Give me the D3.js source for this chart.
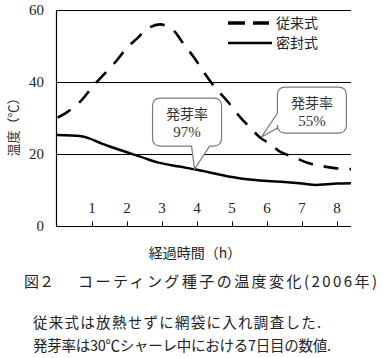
<!DOCTYPE html>
<html><head><meta charset="utf-8">
<script src="https://cdn.jsdelivr.net/npm/d3@7"></script>
<style>
html,body{margin:0;padding:0;background:#fff;}
svg{display:block;}
</style></head>
<body>
<svg id="chart" width="383" height="358"></svg>
<script>
// ---- data ----
const conventionalTime = [0,0.3,0.65,1.0,1.3,1.7,2.0,2.3,2.6,2.95,3.3,3.6,3.9,4.2,4.5,4.9,5.2,5.5,5.8,6.1,6.4,6.8,7.2,7.6,8.0,8.4];
const conventionalTemp = [30.0,31.7,34.4,38.5,41.7,45.9,49.5,52.2,54.9,56.0,54.6,50.8,47.0,42.7,38.7,34.3,30.6,27.5,24.6,22.7,20.5,19.0,17.4,16.6,16.0,15.8];
const sealedTime = [0,0.65,0.9,1.3,1.8,2.4,2.9,3.5,4.0,4.5,5.0,5.5,6.0,6.5,7.0,7.4,7.7,8.0,8.4];
const sealedTemp = [25.3,25.0,24.4,22.8,21.1,19.2,17.6,16.5,15.6,14.6,13.6,12.9,12.5,12.2,11.8,11.4,11.6,11.8,11.9];
const seriesNames = ["従来式","密封式"];
const xTicks = [1,2,3,4,5,6,7,8];
const yTicks = [0,20,40,60];
const calloutLabels = ["発芽率","発芽率"];
const calloutValues = ["97%","55%"];
const calloutTipT = [3.93,5.84];
const calloutTipV = [15.8,24.7];
const xTitle = "経過時間（h）";
const yTitle = "温度（℃）";
const figLabel = "図２";
const caption = "コーティング種子の温度変化(2006年)";
const notes = ["従来式は放熱せずに網袋に入れ調査した.","発芽率は30℃シャーレ中における7日目の数値."];

// ---- layout ----
const svg = d3.select("#chart");
const serif = "'Liberation Serif','DejaVu Serif','Noto Sans CJK JP',serif";
const jp = "'Noto Sans CJK JP','Noto Sans CJK SC',sans-serif";
const x = d3.scaleLinear().domain([0,8.4]).range([57,351]);
const y = d3.scaleLinear().domain([0,60]).range([226,10]);
const axisX = 56;

const g = svg.append("g");

// grid lines at 20,40,60
g.selectAll("line.grid").data(yTicks.filter(d=>d>0)).join("line")
  .attr("x1",axisX).attr("x2",351)
  .attr("y1",d=>Math.round(y(d))+0.5).attr("y2",d=>Math.round(y(d))+0.5)
  .attr("stroke","#000").attr("stroke-width",1);

// y axis line
g.append("line").attr("x1",axisX+0.5).attr("x2",axisX+0.5).attr("y1",y(60)).attr("y2",y(0)+0.5)
  .attr("stroke","#000").attr("stroke-width",1.2);

// x axis with ticks pointing up
const xAxis = d3.axisBottom(x).tickValues(xTicks).tickSize(-5).tickSizeOuter(0).tickFormat("");
const xa = g.append("g").attr("transform",`translate(0,${Math.round(y(0))+0.5})`).call(xAxis);
xa.select(".domain").attr("d",`M${axisX},0H351`).attr("stroke","#000").attr("stroke-width",1.2);
xa.selectAll(".tick line").attr("stroke","#000").attr("stroke-width",1);

// x tick labels inside plot
g.selectAll("text.xt").data(xTicks).join("text")
  .attr("x",d=>x(d)).attr("y",213)
  .attr("text-anchor","middle").attr("font-family",serif).attr("font-size",15).attr("fill","#222")
  .text(d=>d);

// y tick labels
g.selectAll("text.yt").data(yTicks).join("text")
  .attr("x",44).attr("y",d=>y(d)+5)
  .attr("text-anchor","end").attr("font-family",serif).attr("font-size",15).attr("fill","#222")
  .text(d=>d);

// y title
g.append("text").attr("transform","translate(18,124) rotate(-90)")
  .attr("text-anchor","middle").attr("font-family",jp).attr("font-size",13).attr("fill","#333")
  .text(yTitle);

// lines
const conv = conventionalTime.map((t,i)=>({t,v:conventionalTemp[i]}));
const seal = sealedTime.map((t,i)=>({t,v:sealedTemp[i]}));
const line = d3.line().x(d=>x(d.t)).y(d=>y(d.v)).curve(d3.curveCatmullRom.alpha(0.5));
g.append("path").datum(seal).attr("d",line).attr("fill","none").attr("stroke","#000").attr("stroke-width",2.5);
g.append("path").datum(conv).attr("d",line).attr("fill","none").attr("stroke","#000").attr("stroke-width",2.6)
  .attr("stroke-dasharray","15,11").attr("stroke-dashoffset",-1);

// legend
const leg = g.append("g");
leg.append("line").attr("x1",228).attr("x2",269).attr("y1",23).attr("y2",23)
  .attr("stroke","#000").attr("stroke-width",3.5).attr("stroke-dasharray","17,8");
leg.append("line").attr("x1",228).attr("x2",272).attr("y1",43).attr("y2",43)
  .attr("stroke","#000").attr("stroke-width",2.6);
leg.selectAll("text").data(seriesNames).join("text")
  .attr("x",276).attr("y",(d,i)=>23+i*20+5)
  .attr("font-family",jp).attr("font-size",14).attr("fill","#222").text(d=>d);

// callouts
function roundedNotch(b, notch, side){
  const r=8, L=b.x0, R=b.x1, T=b.y0, B=b.y1;
  let p = `M${L+r},${T}H${R-r}Q${R},${T} ${R},${T+r}V${B-r}Q${R},${B} ${R-r},${B}`;
  if(side==="bottom"){
    p += `H${notch[0][0]}L${notch[1][0]},${notch[1][1]}L${notch[2][0]},${B}`;
    p += `H${L+r}Q${L},${B} ${L},${B-r}V${T+r}Q${L},${T} ${L+r},${T}Z`;
  } else {
    p += `H${L+r}Q${L},${B} ${L},${B-r}`;
    p += `V${notch[0][1]}L${notch[1][0]},${notch[1][1]}L${L},${notch[2][1]}`;
    p += `V${T+r}Q${L},${T} ${L+r},${T}Z`;
  }
  return p;
}
const calloutLayout = [
  {box:{dx0:-42,dx1:27,dy0:-71,dy1:-23}, side:"bottom", base:[15,-3]},
  {box:{dx0:16,dx1:85,dy0:-50,dy1:-4}, side:"left", base:[-9,-24]}
];
calloutLabels.forEach((lab,i)=>{
  const tx=x(calloutTipT[i]), ty=y(calloutTipV[i]);
  const L=calloutLayout[i];
  const b={x0:tx+L.box.dx0,x1:tx+L.box.dx1,y0:ty+L.box.dy0,y1:ty+L.box.dy1};
  let notch;
  if(L.side==="bottom") notch=[[tx+L.base[0],0],[tx,ty],[tx+L.base[1],0]];
  else notch=[[0,ty+L.base[0]],[tx,ty],[0,ty+L.base[1]]];
  g.append("path").attr("d",roundedNotch(b,notch,L.side))
    .attr("fill","#fff").attr("stroke","#7a7a7a").attr("stroke-width",1.2);
  const cx=(b.x0+b.x1)/2;
  g.append("text").attr("x",cx).attr("y",b.y0+21).attr("text-anchor","middle")
    .attr("font-family",jp).attr("font-size",14).attr("fill","#333").text(lab);
  g.append("text").attr("x",cx).attr("y",b.y0+39).attr("text-anchor","middle")
    .attr("font-family",serif).attr("font-size",15).attr("fill","#333").text(calloutValues[i]);
});

// titles
svg.append("text").attr("x",195).attr("y",258).attr("text-anchor","middle")
  .attr("font-family",jp).attr("font-size",14).attr("fill","#222").text(xTitle);
svg.append("text").attr("x",24).attr("y",287)
  .attr("font-family",jp).attr("font-size",15).attr("fill","#222").text(figLabel);
svg.append("text").attr("x",78).attr("y",287)
  .attr("font-family",jp).attr("font-size",15).attr("fill","#222")
  .attr("textLength",299).attr("lengthAdjust","spacing").text(caption);
const noteLen = [288,298];
svg.selectAll("text.note").data(notes).join("text")
  .attr("x",33).attr("y",(d,i)=>328+i*23)
  .attr("font-family",jp).attr("font-size",14.5).attr("fill","#222")
  .attr("textLength",(d,i)=>noteLen[i]).attr("lengthAdjust","spacing").text(d=>d);
</script>
</body></html>
